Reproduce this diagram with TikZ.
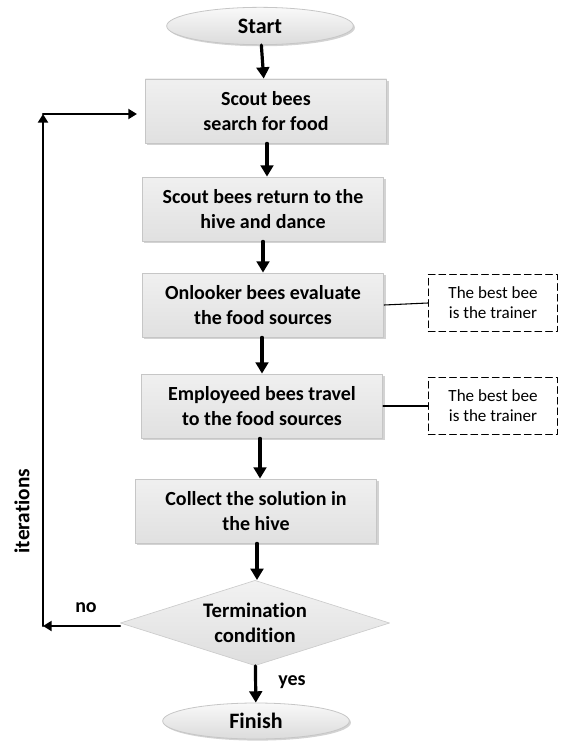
\documentclass[tikz,border=0pt]{standalone}
\usepackage{fontspec}
\setmainfont{Carlito}[Ligatures=NoCommon]
\usetikzlibrary{arrows.meta,shapes.geometric,shadows}

\begin{document}
\begin{tikzpicture}[x=0.75pt,y=-0.75pt,line cap=round,line join=round,
  >={Triangle[width=9.5pt,length=8.5pt]},every node/.style={inner sep=1pt},
  stepbox/.style={rectangle,top color=gray!12,bottom color=gray!24,draw=gray!45,line width=0.6pt,
    drop shadow={opacity=0.35,shadow xshift=1.5pt,shadow yshift=-1.5pt},
    minimum width=181pt,minimum height=48pt,align=center,font=\fontsize{15}{18.5}\selectfont\bfseries},
  endcap/.style={ellipse,top color=gray!5,bottom color=gray!28,draw=gray!45,line width=0.6pt,
    drop shadow={opacity=0.35,shadow xshift=1.2pt,shadow yshift=-1.2pt},
    inner sep=0pt,minimum width=140pt,minimum height=28pt,font=\fontsize{16.5}{19}\selectfont\bfseries},
  notebox/.style={rectangle,draw,dash pattern=on 5pt off 3pt,line width=0.8pt,minimum width=97pt,
    minimum height=43pt,align=center,font=\fontsize{12.8}{15}\selectfont},
  labeltext/.style={font=\fontsize{15}{18}\selectfont\bfseries},
  flow/.style={->,line width=2.4pt},
  loopline/.style={-{Triangle[width=7.5pt,length=6.5pt]},line width=1.8pt}]
  \useasboundingbox (0,0) rectangle (560,749);
  \coordinate (lowc) at (43,626);
  \coordinate (topc) at (43,114);
  \node[endcap] (start) at (260,26) {Start};
  \node[stepbox] (scout) at (266,111) {Scout bees\\search for food};
  \node[stepbox] (dance) at (263,209) {Scout bees return to the\\hive and dance};
  \node[stepbox] (onlook) at (263,305) {Onlooker bees evaluate\\the food sources};
  \node[stepbox] (employ) at (262,406) {Employeed bees travel\\to the food sources};
  \node[stepbox] (collect) at (256,511) {Collect the solution in\\the hive};
  \node[diamond,top color=gray!10,bottom color=gray!26,draw=gray!40,line width=0.5pt,inner sep=0pt,
    minimum width=202pt,minimum height=64pt] (cond) at (255,623) {};
  \node[labeltext,align=center,font=\fontsize{15.5}{19}\selectfont\bfseries] (condtext) at (cond) {Termination\\condition};
  \node[endcap,minimum height=27pt] (finish) at (256,721) {Finish};
  \node[notebox] (note1) at (493,303) {The best bee\\is the trainer};
  \node[notebox] (note2) at (493,406) {The best bee\\is the trainer};
  \draw[flow] (start) -- (scout);
  \draw[flow] (scout.south -| 267,0) -- (dance.north -| 267,0);
  \draw[flow] (dance) -- (onlook);
  \draw[flow] (onlook.south -| 262,0) -- (employ.north -| 262,0);
  \draw[flow] (employ.south -| 260,0) -- (collect.north -| 260,0);
  \draw[flow] (collect.south -| 257,0) -- (cond.north -| 257,0);
  \draw[flow] (cond) -- (finish);
  \draw[line width=0.8pt] (onlook.east) -- (note1.west);
  \draw[line width=0.8pt] (employ.east) -- (note2.west);
  \draw[loopline] (cond.west |- lowc) -- (lowc);
  \draw[loopline] (lowc) -- (topc);
  \draw[loopline,shorten >=6pt] (topc) -- (scout.west |- topc);
  \node[labeltext] (nolab) at (86,608) {no};
  \node[labeltext] (yeslab) at (292,682) {yes};
  \node[rotate=90,font=\fontsize{16}{18}\selectfont\bfseries] (iterlab) at (22,511) {iterations};
\end{tikzpicture}
\end{document}
